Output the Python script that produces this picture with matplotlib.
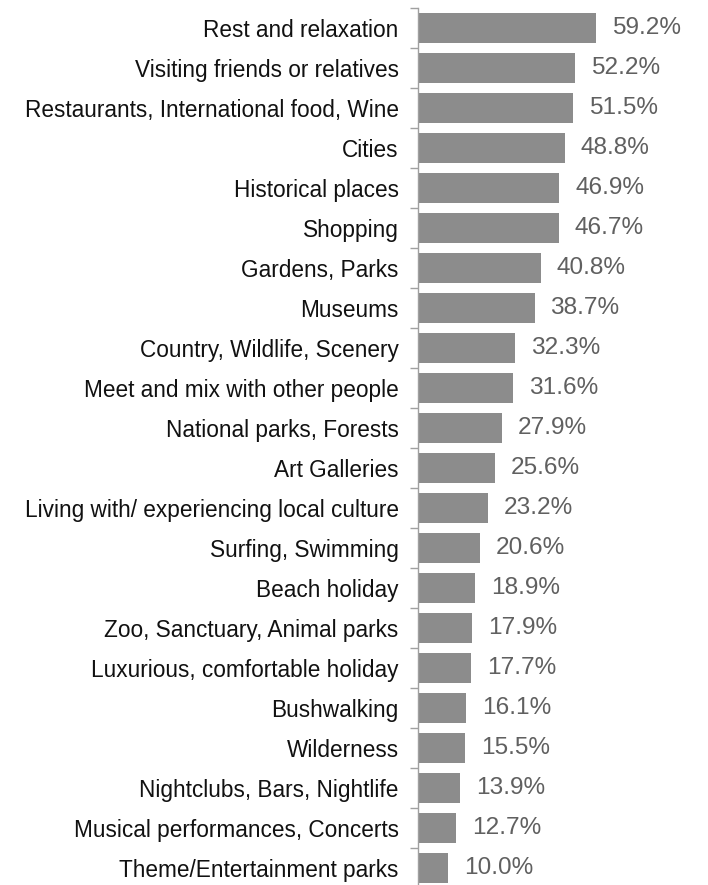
import matplotlib
matplotlib.use("Agg")
import matplotlib.pyplot as plt
from matplotlib.ticker import FixedLocator

plt.rcParams['font.family'] = ['Liberation Sans', 'DejaVu Sans']

categories = [
    "Rest and relaxation",
    "Visiting friends or relatives",
    "Restaurants, International food, Wine",
    "Cities",
    "Historical places",
    "Shopping",
    "Gardens, Parks",
    "Museums",
    "Country, Wildlife, Scenery",
    "Meet and mix with other people",
    "National parks, Forests",
    "Art Galleries",
    "Living with/ experiencing local culture",
    "Surfing, Swimming",
    "Beach holiday",
    "Zoo, Sanctuary, Animal parks",
    "Luxurious, comfortable holiday",
    "Bushwalking",
    "Wilderness",
    "Nightclubs, Bars, Nightlife",
    "Musical performances, Concerts",
    "Theme/Entertainment parks",
]
values = [59.2, 52.2, 51.5, 48.8, 46.9, 46.7, 40.8, 38.7, 32.3, 31.6, 27.9,
          25.6, 23.2, 20.6, 18.9, 17.9, 17.7, 16.1, 15.5, 13.9, 12.7, 10.0]

W, H = 708, 885
fig = plt.figure(figsize=(W / 100, H / 100), dpi=100)
left_px, top_px, bottom_px = 418, 8, 888
ax = fig.add_axes([left_px / W, (H - bottom_px) / H,
                   (W - left_px) / W, (bottom_px - top_px) / H])

n = len(categories)
ypos = list(range(n))
ax.barh(ypos, values, height=0.73, color="#8c8c8c", zorder=2)
ax.set_ylim(n - 0.5, -0.5)
ax.set_xlim(0, 96.3)

ax.set_yticks(ypos)
ax.set_yticklabels(categories, fontsize=16.3, color="#111111")
ax.tick_params(axis='y', which='major', length=0, pad=14)
ax.yaxis.set_minor_locator(FixedLocator([i - 0.5 for i in range(n + 1)]))
ax.tick_params(axis='y', which='minor', length=6, width=1, color="#a0a0a0")

ax.set_xticks([])
for s in ("top", "right", "bottom"):
    ax.spines[s].set_visible(False)
ax.spines["left"].set_color("#a0a0a0")
ax.spines["left"].set_linewidth(1)

for y, v in zip(ypos, values):
    ax.annotate(f"{v:.1f}%", xy=(v, y), xytext=(11.5, 0), textcoords="offset points",
                va="center", ha="left", fontsize=17.6, color="#606060")

fig.savefig("out.png", dpi=100)
